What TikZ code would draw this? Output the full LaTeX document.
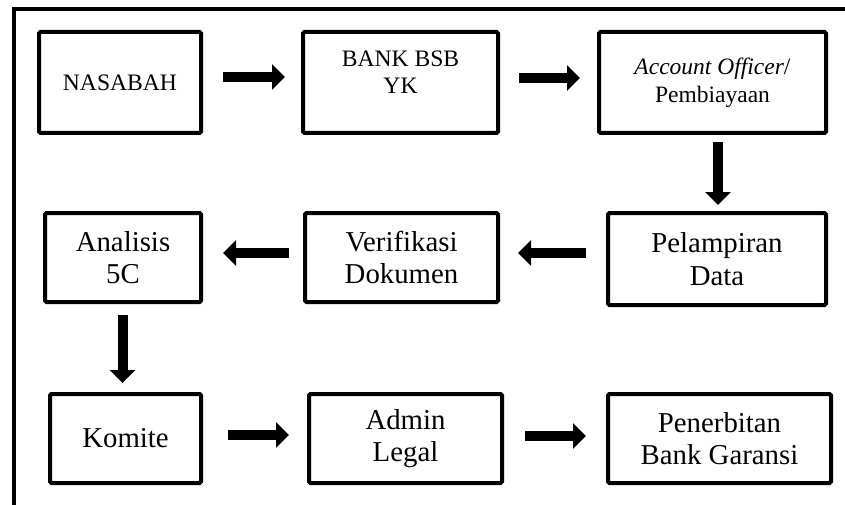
\documentclass[tikz,border=0pt]{standalone}
\usepackage{fontspec}
\usepackage{graphicx}
\setmainfont{Liberation Serif}
\usetikzlibrary{arrows.meta,calc}
\begin{document}
\begin{tikzpicture}[x=1pt,y=-1pt,
  box/.style={draw, line width=4pt, rounded corners=1.5pt, inner sep=0pt, align=center},
  big/.style={font=\fontsize{28.8}{32.5}\selectfont},
  small/.style={font=\fontsize{23.6}{27}\selectfont},
  conn/.style={line width=10pt, -{Triangle[length=13pt,width=25pt]}},
  frameline/.style={line width=4pt}]
\useasboundingbox (0,0) rectangle (845,505);
% frame
\coordinate (fb) at (14,505);
\coordinate (fc) at (14,9);
\coordinate (fr) at (845,9);
\draw[frameline] (fb) -- (fc) -- (fr);
% row 1
\node[box, small, minimum width=162pt, minimum height=101pt] (nas) at (120,82.5) {NASABAH};
\node[box, minimum width=195pt, minimum height=101pt] (bank) at (400.5,82.5) {};
\node[small, align=center, inner sep=0pt, anchor=north] (banktxt) at (400.5,51) {BANK BSB\\YK};
\node[box, minimum width=227pt, minimum height=101pt, font=\fontsize{23.5}{28}\selectfont] (ao) at (712.5,82.5) {\textit{Account Officer}/\\Pembiayaan};
% row 2
\node[box, big, minimum width=156pt, minimum height=89pt] (ana) at (123,257.5) {Analisis\\5C};
\node[box, big, minimum width=193pt, minimum height=89pt] (ver) at (401.5,257.5) {Verifikasi\\Dokumen};
\node[box, big, minimum width=218pt, minimum height=92pt] (pel) at (717,259) {Pelampiran\\Data};
% row 3
\node[box, big, minimum width=151pt, minimum height=89pt] (kom) at (125.5,438.5) {Komite};
\node[box, big, minimum width=193pt, minimum height=89pt] (adm) at (405.5,438.5) {Admin\\Legal};
\node[box, big, minimum width=223pt, minimum height=89pt] (pen) at (719.5,438.5) {Penerbitan\\Bank Garansi};
% connectors
\draw[conn] ([xshift=20pt,yshift=5.5pt]nas.east) -- ([xshift=-16pt,yshift=5.5pt]bank.west);
\draw[conn] ([xshift=19pt,yshift=4.5pt]bank.east) -- ([xshift=-17pt,yshift=4.5pt]ao.west);
\draw[conn] ([xshift=5.5pt,yshift=-7pt]ao.south) -- ([xshift=1pt,yshift=6pt]pel.north);
\draw[conn] ([xshift=-20pt,yshift=6pt]pel.west) -- ([xshift=18pt,yshift=4.5pt]ver.east);
\draw[conn] ([xshift=-14pt,yshift=4.5pt]ver.west) -- ([xshift=20pt,yshift=4.5pt]ana.east);
\draw[conn] ([xshift=-0.5pt,yshift=-11pt]ana.south) -- ([xshift=-3pt,yshift=9pt]kom.north);
\draw[conn] ([xshift=25pt,yshift=3.5pt]kom.east) -- ([xshift=-18pt,yshift=3.5pt]adm.west);
\draw[conn] ([xshift=21pt,yshift=2.5pt]adm.east) -- ([xshift=-20pt,yshift=2.5pt]pen.west);
\end{tikzpicture}
\end{document}
